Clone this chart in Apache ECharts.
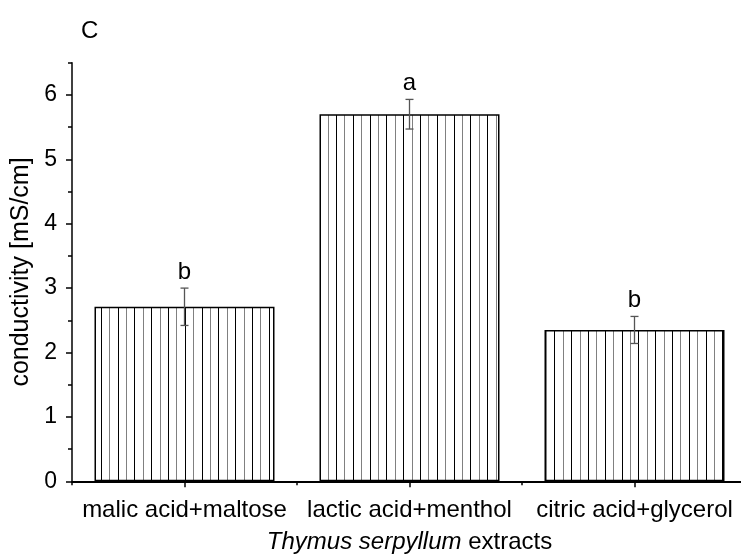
<!DOCTYPE html>
<html><head><meta charset="utf-8">
<script src="https://cdn.jsdelivr.net/npm/echarts@6/dist/echarts.min.js"></script>
<style>html,body{margin:0;padding:0;background:#fff}#c{width:741px;height:556px}</style>
</head><body><div id="c"></div>
<script>
const categories = ['malic acid+maltose', 'lactic acid+menthol', 'citric acid+glycerol'];
const values = [2.71, 5.70, 2.35];
const errors = [0.29, 0.23, 0.21];
const letters = ['b', 'a', 'b'];
const yTicks = [0, 1, 2, 3, 4, 5, 6];
const yMax = 6.5;

const FONT = "'Liberation Sans', Arial, sans-serif";

function makePattern() {
  const c = document.createElement('canvas');
  c.width = 84; c.height = 4;
  const ctx = c.getContext('2d');
  ctx.fillStyle = '#fff'; ctx.fillRect(0, 0, 84, 4);
  const xs = [0, 8, 17, 25, 34, 42, 50, 59, 67, 76];
  xs.forEach((x, i) => { ctx.fillStyle = i % 2 ? '#808080' : '#000'; ctx.fillRect(x, 0, 1, 4); });
  return c;
}

const chart = echarts.init(document.getElementById('c'), null, {renderer: 'canvas'});
const errStyle = {stroke: '#555', lineWidth: 1.3};
chart.setOption({
  animation: false,
  backgroundColor: '#fff',
  title: {text: 'C', left: 76, top: 14, textStyle: {fontFamily: FONT, fontSize: 24, fontWeight: 'normal', color: '#000'}},
  grid: {left: 72, right: -6, top: 62.7, bottom: 74.7, containLabel: false, outerBoundsMode: 'none'},
  xAxis: [{
    type: 'category', data: categories, position: 'bottom',
    axisLine: {show: true, lineStyle: {color: '#000', width: 2}},
    axisTick: {show: true, alignWithLabel: true, length: 6, lineStyle: {color: '#000', width: 1.5}},
    axisLabel: {color: '#000', fontFamily: FONT, fontSize: 24, margin: 17, interval: 0, hideOverlap: false},
    name: '{i|Thymus serpyllum} extracts', nameLocation: 'middle', nameGap: 49,
    nameTextStyle: {color: '#000', fontFamily: FONT, fontSize: 24, rich: {i: {fontStyle: 'italic', fontFamily: FONT, fontSize: 24, color: '#000'}}},
    splitLine: {show: false}
  }, {
    type: 'category', data: categories, position: 'bottom', gridIndex: 0,
    axisLine: {show: false},
    axisTick: {show: true, alignWithLabel: false, length: 4, lineStyle: {color: '#000', width: 1.5}},
    axisLabel: {show: false}, splitLine: {show: false}
  }],
  yAxis: [{
    type: 'value', min: 0, max: yMax, position: 'left',
    axisLine: {show: true, lineStyle: {color: '#000', width: 1.5}},
    axisTick: {show: true, length: 6, customValues: yTicks, lineStyle: {color: '#000', width: 1.5}},
    axisLabel: {color: '#000', fontFamily: FONT, fontSize: 23, margin: 15, customValues: yTicks},
    splitLine: {show: false},
    name: 'conductivity [mS/cm]', nameLocation: 'middle', nameGap: 37,
    nameTextStyle: {color: '#000', fontFamily: FONT, fontSize: 25}
  }, {
    type: 'value', min: 0, max: yMax, interval: 0.5, position: 'left',
    axisLine: {show: false},
    axisTick: {show: true, length: 4, lineStyle: {color: '#000', width: 1.5}},
    axisLabel: {show: false}, splitLine: {show: false}
  }],
  series: [{
    type: 'bar', data: values, barWidth: '80%', xAxisIndex: 0, yAxisIndex: 0,
    itemStyle: {color: {image: makePattern(), repeat: 'repeat'}, borderColor: '#000', borderWidth: 1.5}
  }, {
    type: 'custom', xAxisIndex: 0, yAxisIndex: 0, z: 10,
    data: categories.map((c, i) => [i, values[i], errors[i]]),
    renderItem(params, api) {
      const i = api.value(0), m = api.value(1), e = api.value(2);
      const top = api.coord([i, m + e]);
      const bot = api.coord([i, m - e]);
      const x = top[0], hw = 4;
      return {type: 'group', children: [
        {type: 'line', shape: {x1: x, y1: top[1], x2: x, y2: bot[1]}, style: errStyle},
        {type: 'line', shape: {x1: x - hw, y1: top[1], x2: x + hw, y2: top[1]}, style: errStyle},
        {type: 'line', shape: {x1: x - hw, y1: bot[1], x2: x + hw, y2: bot[1]}, style: errStyle},
        {type: 'text', style: {text: letters[params.dataIndex], x: x, y: top[1] - 4, align: 'center', verticalAlign: 'bottom',
          fontFamily: FONT, fontSize: 24, fill: '#000'}}
      ]};
    }
  }]
});
</script></body></html>
